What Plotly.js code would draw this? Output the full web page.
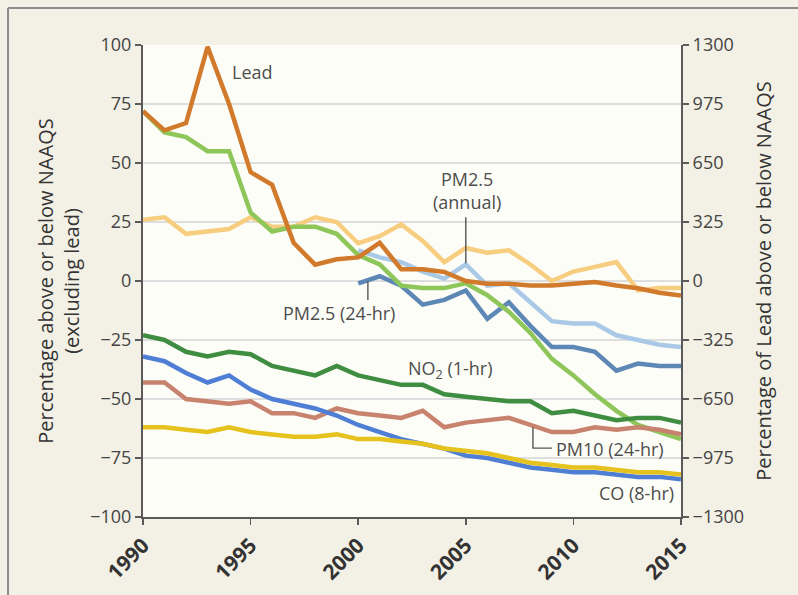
<!DOCTYPE html>
<html>
<head>
<meta charset="utf-8">
<script src="https://cdn.plot.ly/plotly-3.0.1.min.js"></script>
<style>
html,body{margin:0;padding:0;background:#f3f1e5;}
#chart{width:798px;height:595px;}
</style>
</head>
<body>
<div id="chart"></div>
<script>
// ---- data ----
const years = [1990,1991,1992,1993,1994,1995,1996,1997,1998,1999,2000,2001,2002,2003,2004,2005,2006,2007,2008,2009,2010,2011,2012,2013,2014,2015];
const yearsPM = [2000,2001,2002,2003,2004,2005,2006,2007,2008,2009,2010,2011,2012,2013,2014,2015];

// Lead plotted on right axis (percentage of lead above/below NAAQS)
const lead = [935, 830, 870, 1290, 975, 600, 530, 210, 90, 120, 130, 210, 65, 65, 50, 0, -15, -15, -25, -25, -15, -5, -25, -40, -65, -80];
const so2_1hr = [72, 63, 61, 55, 55, 29, 21, 23, 23, 20, 11, 7, -2, -3, -3, -1, -6, -13, -22, -33, -40, -48, -55, -61, -64, -67];
const o3_8hr = [26, 27, 20, 21, 22, 27, 23, 23, 27, 25, 16, 19, 24, 17, 8, 14, 12, 13, 7, 0, 4, 6, 8, -4, -3, -3];
const pm25_annual = [13, 10, 8, 4, 1, 7, -2, -1, -9, -17, -18, -18, -23, -25, -27, -28];
const pm25_24hr = [-1, 2, -2, -10, -8, -4, -16, -9, -19, -28, -28, -30, -38, -35, -36, -36];
const no2_1hr = [-23, -25, -30, -32, -30, -31, -36, -38, -40, -36, -40, -42, -44, -44, -48, -49, -50, -51, -51, -56, -55, -57, -59, -58, -58, -60];
const pm10_24hr = [-43, -43, -50, -51, -52, -51, -56, -56, -58, -54, -56, -57, -58, -55, -62, -60, -59, -58, -61, -64, -64, -62, -63, -62, -63, -65];
const co_8hr = [-32, -34, -39, -43, -40, -46, -50, -52, -54, -57, -61, -64, -67, -69, -71, -74, -75, -77, -79, -80, -81, -81, -82, -83, -83, -84];
const no2_annual = [-62, -62, -63, -64, -62, -64, -65, -66, -66, -65, -67, -67, -68, -69, -71, -72, -73, -75, -77, -78, -79, -79, -80, -81, -81, -82];

const leftTicks = [100, 75, 50, 25, 0, -25, -50, -75, -100];
const rightTicks = [1300, 975, 650, 325, 0, -325, -650, -975, -1300];
const xTicks = [1990, 1995, 2000, 2005, 2010, 2015];

// ---- styling ----
const W = 4.5;
function line(x, y, color, yaxis) {
  return {x: x, y: y, type: 'scatter', mode: 'lines', yaxis: yaxis || 'y',
          line: {color: color, width: W}, hoverinfo: 'skip', showlegend: false};
}
const traces = [
  line(years, o3_8hr, '#f7cd80'),
  line(yearsPM, pm25_annual, '#a9c9e6'),
  line(yearsPM, pm25_24hr, '#5d88b6'),
  line(years, lead, '#d27a2c', 'y2'),
  line(years, so2_1hr, '#8ec65a'),
  line(years, no2_1hr, '#3f8d40'),
  line(years, pm10_24hr, '#c8836e'),
  line(years, co_8hr, '#4f7fd4'),
  line(years, no2_annual, '#e6c21f')
];

const FF = 'Open Sans, sans-serif';
const txt = '#4d4d4d';
const fnt = {family: FF, size: 18, color: txt};
function ann(x, y, text, xanchor) {
  return {x: x, y: y, xref: 'x', yref: 'y', text: text, showarrow: false,
          xanchor: xanchor || 'center', yanchor: 'middle', font: fnt};
}
const annotations = [
  ann(1995.07, 88.6, 'Lead'),
  ann(1989.95, 44, 'SO<sub>2</sub> (1-hr)', 'left'),
  ann(1989.95, 17.4, 'O<sub>3</sub> (8-hr)', 'left'),
  ann(2005.05, 38.5, 'PM2.5<br>(annual)'),
  ann(1999.1, -13.6, 'PM2.5 (24-hr)'),
  ann(2004.3, -37.7, 'NO<sub>2</sub> (1-hr)'),
  ann(1989.95, -70.3, 'NO<sub>2</sub> (annual)', 'left'),
  ann(2009.1, -71, 'PM10 (24-hr)', 'left'),
  ann(2014.75, -90, 'CO (8-hr)', 'right')
];

const leader = {color: '#555', width: 1.4};
const shapes = [
  {type: 'line', xref: 'x', yref: 'y', x0: 1990, x1: 2015, y0: 0, y1: 0,
   line: {color: '#7a7a7a', width: 1.8, dash: '7px,5px'}, layer: 'below'},
  {type: 'line', xref: 'x', yref: 'y', x0: 2005.0, x1: 2005.0, y0: 27, y1: 7.5, line: leader},
  {type: 'line', xref: 'x', yref: 'y', x0: 2000.45, x1: 2000.45, y0: 0, y1: -8, line: leader},
  {type: 'path', xref: 'x', yref: 'y', path: 'M2008.12,-62 L2008.12,-70.8 L2009.0,-70.8', line: leader},
  // outer frame (top and left)
  {type: 'line', xref: 'paper', yref: 'paper', x0: -0.2509, x1: 1.3, y0: 1.0784, y1: 1.0784,
   line: {color: '#8c8c8c', width: 2}},
  {type: 'line', xref: 'paper', yref: 'paper', x0: -0.2509, x1: -0.2509, y0: -0.3, y1: 1.0784,
   line: {color: '#8c8c8c', width: 2}}
];

const axisCommon = {
  showline: true, linecolor: '#5a5a5a', linewidth: 2,
  ticks: 'outside', ticklen: 6, tickwidth: 1.5, tickcolor: '#5a5a5a',
  zeroline: false, fixedrange: true
};

const layout = {
  width: 798, height: 595,
  margin: {l: 143, r: 117, t: 45, b: 78, pad: 0},
  paper_bgcolor: '#f3f1e5',
  plot_bgcolor: '#fdfdf7',
  showlegend: false,
  font: fnt,
  xaxis: Object.assign({}, axisCommon, {
    range: [1990, 2015], tickvals: xTicks, tickangle: -45,
    tickfont: {family: FF, size: 21, color: '#333', weight: 'bold'},
    showgrid: false
  }),
  yaxis: Object.assign({}, axisCommon, {
    range: [-100, 100], tickvals: leftTicks,
    tickfont: {family: FF, size: 18, color: '#444'},
    showgrid: true, gridcolor: '#dedede', gridwidth: 1.2,
    title: {text: 'Percentage above or below NAAQS<br>(excluding lead)',
            font: {family: FF, size: 20, color: '#333'}, standoff: 5}
  }),
  yaxis2: Object.assign({}, axisCommon, {
    range: [-1300, 1300], tickvals: rightTicks, overlaying: 'y', side: 'right',
    tickfont: {family: FF, size: 18, color: '#444'},
    showgrid: false,
    title: {text: 'Percentage of Lead above or below NAAQS',
            font: {family: FF, size: 20, color: '#333'}, standoff: 14}
  }),
  annotations: annotations,
  shapes: shapes
};

Plotly.newPlot('chart', traces, layout, {staticPlot: true, displayModeBar: false});
</script>
</body>
</html>
